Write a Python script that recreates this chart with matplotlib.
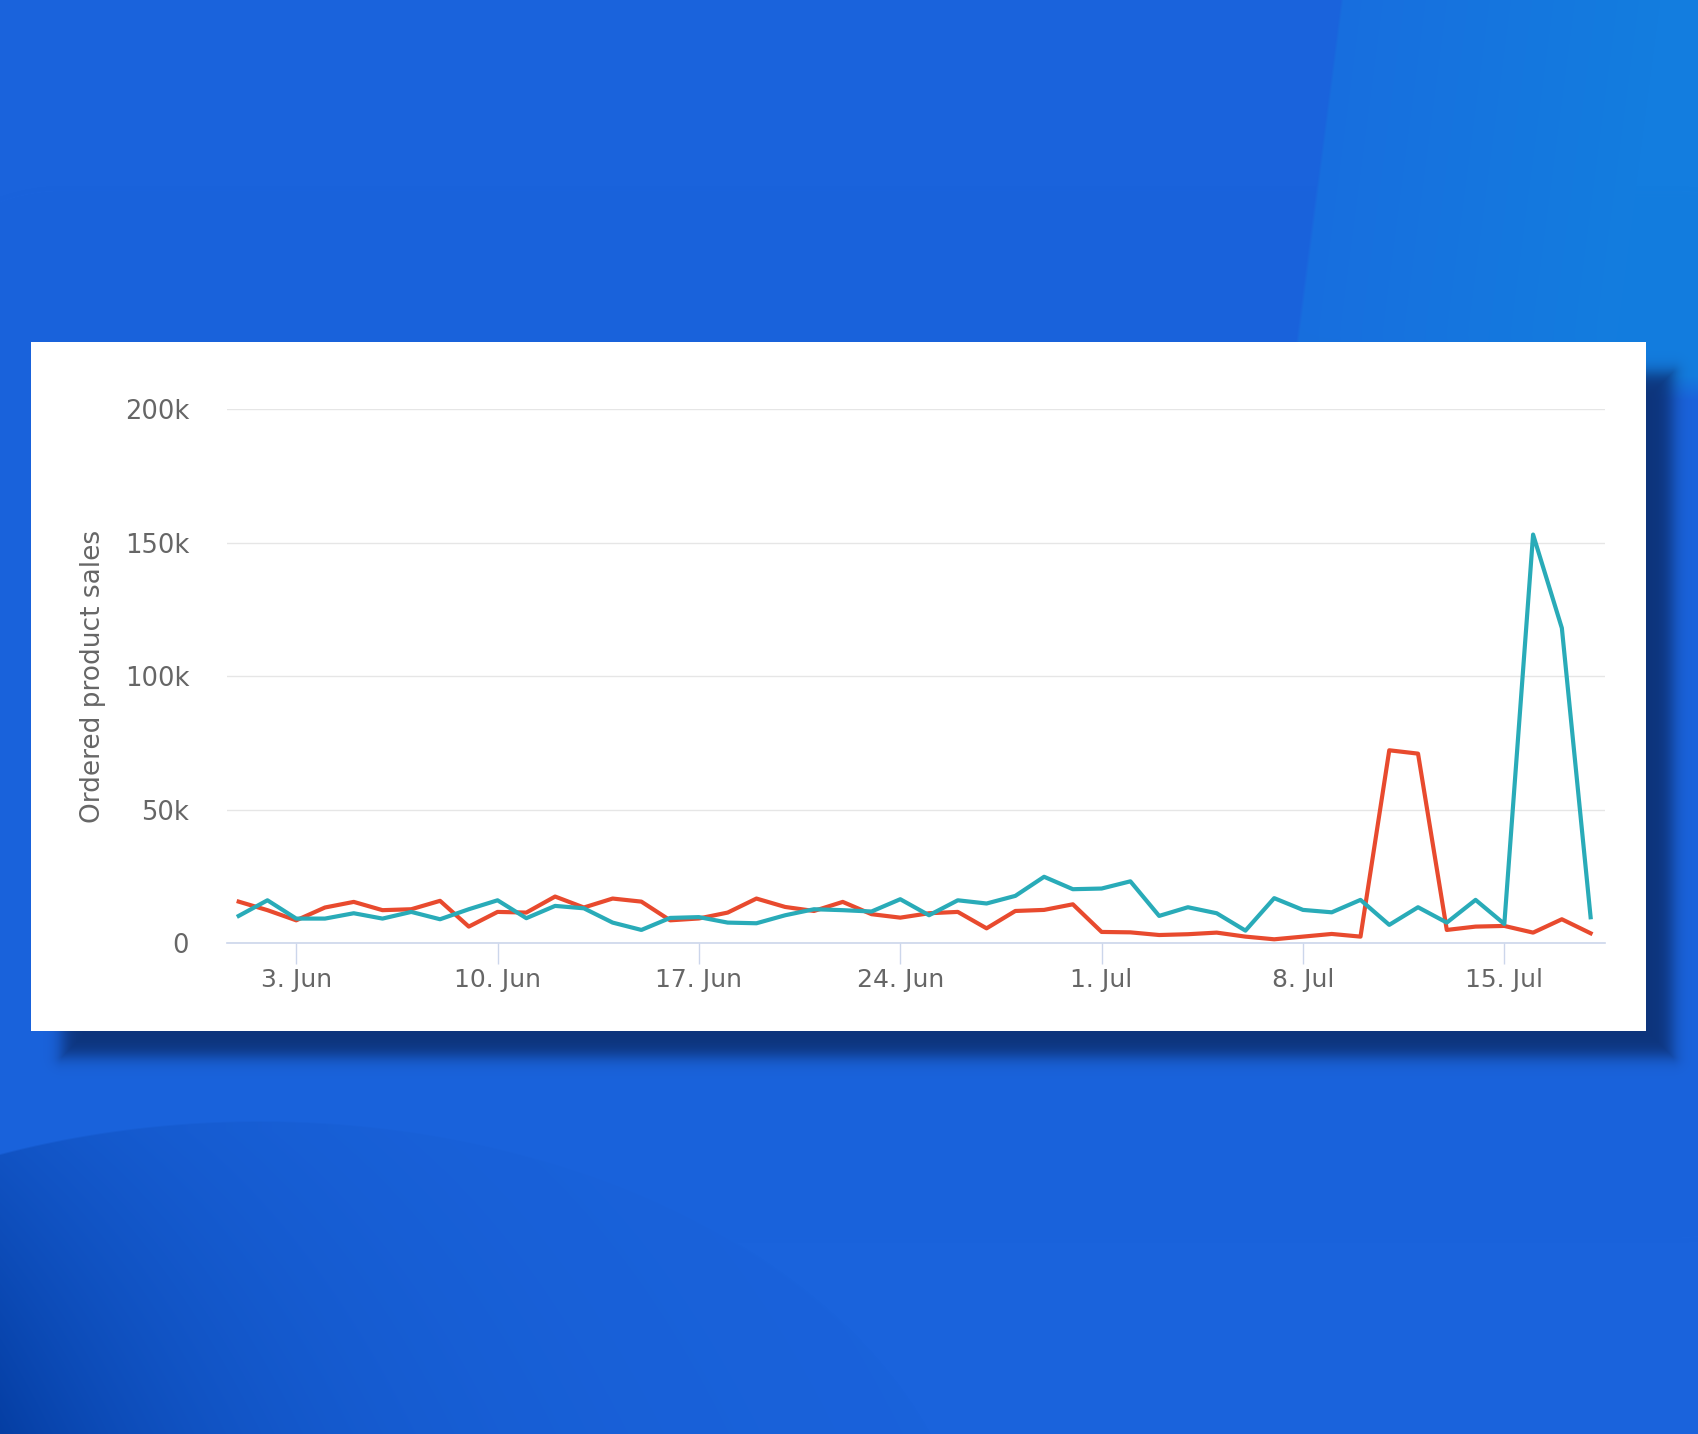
"""Ordered product sales card on a blue backdrop."""

import numpy as np
import pandas as pd
import matplotlib

matplotlib.use("Agg")
import matplotlib.pyplot as plt

# daily values, 1 Jun - 18 Jul
dates = pd.date_range("2023-06-01", "2023-07-18", freq="D")
red_sales = [
    15600, 12400, 8600, 13400, 15500, 12400, 12750, 15900, 6250, 11750,
    11500, 17500, 13400, 16750, 15600, 8600, 9300, 11500, 16750, 13600,
    12100, 15500, 10900, 9600, 11250, 11750, 5600, 12100, 12500, 14600,
    4250, 4100, 3100, 3400, 4000, 2500, 1500, 2500, 3500, 2500,
    72250, 71000, 5000, 6250, 6500, 4000, 9000, 3750,
]
teal_sales = [
    10250, 16100, 9250, 9250, 11250, 9250, 11750, 9000, 12750, 16100,
    9400, 14000, 13100, 7750, 5000, 9500, 9800, 7750, 7500, 10500,
    12750, 12400, 11900, 16500, 10500, 16100, 14900, 17750, 24900, 20250,
    20500, 23200, 10250, 13500, 11250, 4750, 16900, 12500, 11600, 16250,
    6900, 13500, 7750, 16250, 7250, 153000, 118000, 9750,
]
tick_dates = pd.to_datetime([
    "2023-06-03", "2023-06-10", "2023-06-17", "2023-06-24",
    "2023-07-01", "2023-07-08", "2023-07-15",
])
tick_labels = ["3. Jun", "10. Jun", "17. Jun", "24. Jun", "1. Jul", "8. Jul", "15. Jul"]
y_ticks = [0, 50000, 100000, 150000, 200000]
y_tick_labels = ["0", "50k", "100k", "150k", "200k"]

W, H = 1698, 1434
RED = "#e84a2e"
TEAL = "#29abb8"
TEXT = "#666666"
BASE = (26, 99, 220)


def mix(a, b, t):
    a = np.asarray(a, float)
    b = np.asarray(b, float)
    return a * (1 - t[..., None]) + b * t[..., None]


def build_background():
    yy, xx = np.mgrid[0:H, 0:W].astype(float)
    img = np.empty((H, W, 3))
    img[:] = BASE

    # lighter area top right
    bx = 1340 - 0.13 * yy
    m = np.clip((xx - bx) / 3, 0, 1) * np.clip((400 - yy) / 25, 0, 1)
    t = np.clip((xx - bx) / 320, 0, 1)
    light = mix((24, 110, 222), (19, 125, 223), t)
    img = img * (1 - m[..., None]) + light * m[..., None]

    # darker wave bottom left, fading out towards the right
    e = ((xx - 260) / 715) ** 2 + ((yy - 1600) / 480) ** 2
    inside = np.clip((1 - e) * 120, 0, 1)
    d = np.exp(-xx / 250) * (0.4 + 0.6 * np.clip((yy - 1130) / 304, 0, 1))
    dark = mix(BASE, (5, 62, 163), d)
    img = img * (1 - inside[..., None]) + dark * inside[..., None]

    # card shadow
    x0, x1, y0, y1 = 62, 1672, 372, 1056
    dx = np.maximum(np.maximum(x0 - xx, xx - x1), 0)
    dy = np.maximum(np.maximum(y0 - yy, yy - y1), 0)
    outside = np.hypot(dx, dy)
    inner = np.minimum(np.minimum(xx - x0, x1 - xx), np.minimum(yy - y0, y1 - yy))
    sd = np.where(outside > 0, outside, -np.maximum(inner, 0))
    a = 0.92 / (1 + np.exp(sd / 5))
    img = img * (1 - a[..., None]) + np.array([12, 48, 115]) * a[..., None]

    # white card
    card = (xx >= 31) & (xx < 1646) & (yy >= 342) & (yy < 1031)
    img[card] = (255, 255, 255)
    return img / 255.0


fig = plt.figure(figsize=(W / 100, H / 100), dpi=100)

bg = fig.add_axes([0, 0, 1, 1])
bg.imshow(build_background(), extent=[0, W, H, 0], aspect="auto", interpolation="bilinear")
bg.set_xlim(0, W)
bg.set_ylim(H, 0)
bg.axis("off")

left, right, bottom, top = 226.7, 1605, 943.3, 409
ax = fig.add_axes([left / W, 1 - bottom / H, (right - left) / W, (bottom - top) / H])
ax.set_facecolor("none")

ax.plot(dates, red_sales, color=RED, linewidth=3.0)
ax.plot(dates, teal_sales, color=TEAL, linewidth=3.0)

ax.set_ylim(0, 200000)
ax.set_xlim(dates[0] - pd.Timedelta(hours=10), dates[-1] + pd.Timedelta(hours=12))
ax.set_yticks(y_ticks)
ax.set_yticklabels(y_tick_labels)
ax.set_xticks(tick_dates)
ax.set_xticklabels(tick_labels)

ax.grid(axis="y", color="#e6e6e6", linewidth=1.0)
ax.set_axisbelow(True)
for side in ("top", "right", "left"):
    ax.spines[side].set_visible(False)
ax.spines["bottom"].set_color("#ccd6eb")
ax.spines["bottom"].set_linewidth(1.2)

ax.tick_params(axis="x", length=15, width=1, color="#ccd6eb", labelsize=18,
               labelcolor=TEXT, pad=3)
ax.tick_params(axis="y", length=0, labelsize=18.5, labelcolor=TEXT, pad=27)

fig.text(93 / W, 1 - 676 / H, "Ordered product sales", rotation=90,
         ha="center", va="center", fontsize=19, color=TEXT)

fig.savefig("out.png", dpi=100)
plt.close(fig)
